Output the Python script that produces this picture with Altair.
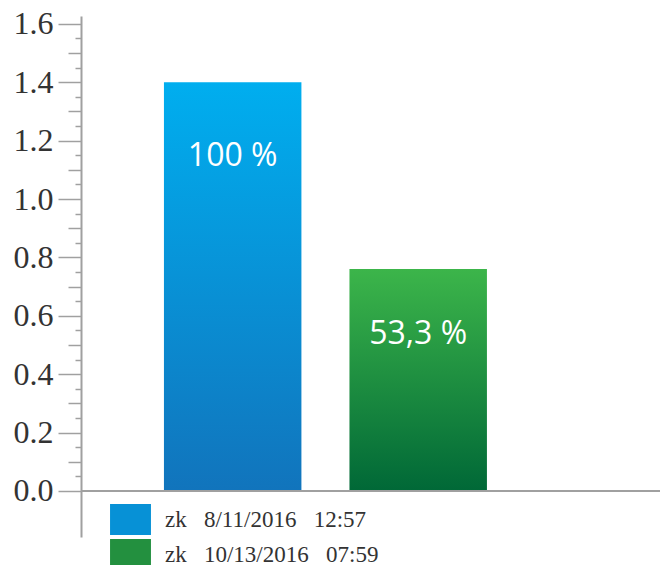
import altair as alt
import pandas as pd

# ---- data ----
series_labels = ["zk\u00a0\u00a0\u00a08/11/2016\u00a0\u00a0\u00a012:57",
                 "zk\u00a0\u00a0\u00a010/13/2016\u00a0\u00a0\u00a007:59"]
bar_keys = ["a", "b"]
bar_values = [1.40, 0.76]
bar_texts = ["100 %", "53,3 %"]
major_ticks = [0.0, 0.2, 0.4, 0.6, 0.8, 1.0, 1.2, 1.4, 1.6]
mid_ticks = [0.1, 0.3, 0.5, 0.7, 0.9, 1.1, 1.3, 1.5]
minor_ticks = [0.05, 0.15, 0.25, 0.35, 0.45, 0.55, 0.65, 0.75, 0.85, 0.95,
               1.05, 1.15, 1.25, 1.35, 1.45, 1.55]

df = pd.DataFrame({"key": bar_keys, "value": bar_values,
                   "text": bar_texts, "series": series_labels})

AX = "#a0a0a0"
TXT = "#333333"
SERIF = "Liberation Serif"

yscale = alt.Scale(domain=[-0.158, 1.627], nice=False, zero=False)
xscale = alt.Scale(domain=bar_keys, paddingInner=0.259, paddingOuter=0.69, align=0.324)

def grad(top, bottom):
    return alt.Gradient(gradient="linear",
                        stops=[alt.GradientStop(color=top, offset=0),
                               alt.GradientStop(color=bottom, offset=1)],
                        x1=0, x2=0, y1=0, y2=1)

base = alt.Chart(df)

# axes layers (major with labels, medium and short ticks)
axis_major = base.mark_point(opacity=0).encode(
    x=alt.X("key:N", scale=xscale, axis=None),
    y=alt.Y("value:Q", scale=yscale,
            axis=alt.Axis(values=major_ticks, format=".1f", title=None, grid=False,
                          tickSize=23, tickWidth=1.5, tickColor=AX,
                          domainColor=AX, domainWidth=2,
                          labelFont=SERIF, labelFontSize=32, labelColor=TXT,
                          labelPadding=5, orient="left")),
)
axis_mid = base.mark_point(opacity=0).encode(
    x=alt.X("key:N", scale=xscale, axis=None),
    y=alt.Y("value:Q", scale=yscale,
            axis=alt.Axis(values=mid_ticks, labels=False, title=None, grid=False,
                          tickSize=13, tickWidth=1.5, tickColor=AX,
                          domain=False, orient="left")),
)
axis_minor = base.mark_point(opacity=0).encode(
    x=alt.X("key:N", scale=xscale, axis=None),
    y=alt.Y("value:Q", scale=yscale,
            axis=alt.Axis(values=minor_ticks, labels=False, title=None, grid=False,
                          tickSize=6, tickWidth=1.5, tickColor=AX,
                          domain=False, orient="left")),
)

# invisible layer that produces the legend
legend_layer = base.mark_square(opacity=0).encode(
    x=alt.X("key:N", scale=xscale, axis=None),
    y=alt.Y("value:Q", scale=yscale, axis=None),
    color=alt.Color("series:N",
                    scale=alt.Scale(domain=series_labels, range=["#0791d6", "#23903f"]),
                    legend=alt.Legend(title=None, orient="none", legendX=34, legendY=488,
                                      symbolType="M-1.32,-1H1.32V1H-1.32Z",
                                      symbolSize=961, symbolOpacity=1,
                                      symbolStrokeWidth=0, rowPadding=4,
                                      labelOffset=19, labelFont=SERIF,
                                      labelFontSize=23, labelColor=TXT,
                                      labelLimit=400, padding=0)),
)

bars = []
texts = []
colors = [("#00aeef", "#1174bc"), ("#3cb54a", "#006837")]
dys = [74, 65]
for i, k in enumerate(bar_keys):
    sub = base.transform_filter(alt.datum.key == k)
    bars.append(sub.mark_bar(color=grad(*colors[i])).encode(
        x=alt.X("key:N", scale=xscale, axis=None),
        y=alt.Y("value:Q", scale=yscale, axis=None),
        y2=alt.datum(0),
    ))
    texts.append(sub.mark_text(color="white", font="Open Sans", fontSize=32,
                               baseline="middle", align="center", dy=dys[i]).encode(
        x=alt.X("key:N", scale=xscale, axis=None),
        y=alt.Y("value:Q", scale=yscale, axis=None),
        text="text:N",
    ))

zero_rule = alt.Chart(pd.DataFrame({"z": [0]})).mark_rule(color=AX, strokeWidth=2).encode(
    y=alt.Y("z:Q", scale=yscale, axis=None)
)

chart = alt.layer(axis_major, axis_mid, axis_minor, legend_layer, *bars, zero_rule, *texts).resolve_axis(
    y="independent"
).properties(
    width=579, height=521,
    autosize=alt.AutoSizeParams(type="none"),
    padding={"left": 73, "top": 8, "right": 0, "bottom": 32},
).configure_view(stroke=None)

chart.save("out.html", embed_options={"renderer": "svg", "actions": False})
